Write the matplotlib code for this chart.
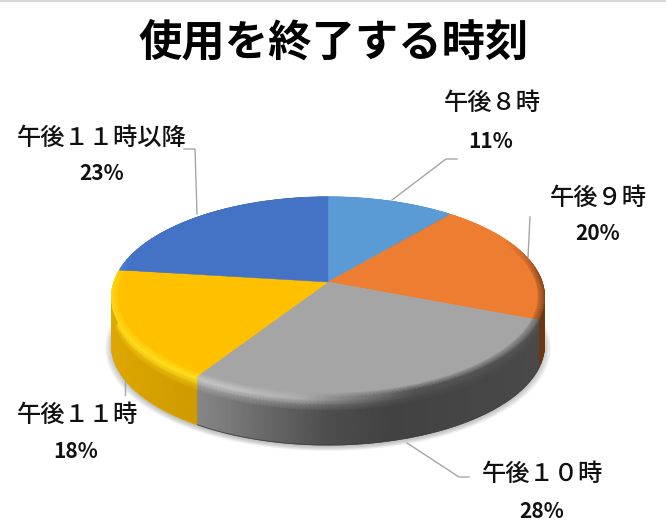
import numpy as np
import matplotlib
matplotlib.use("Agg")
import matplotlib.pyplot as plt
from matplotlib.colors import to_rgb

plt.rcParams["font.family"] = ["Noto Sans CJK JP", "DejaVu Sans"]

TITLE = "使用を終了する時刻"
labels = ["午後８時", "午後９時", "午後１０時", "午後１１時", "午後１１時以降"]
shares = [11, 20, 28, 18, 23]
colors = ["#5B9BD5", "#ED7D31", "#A5A5A5", "#FFC000", "#4472C4"]

# label anchors and leader lines, in image pixels
label_xy = [(492, 103), (598, 198), (542, 474), (77, 415), (102, 138)]
pct_xy = [(491, 141), (598, 233), (542, 511), (76, 452), (102, 173)]
leaders = [
    [(392, 200), (446, 159), (457, 159)],
    [(528, 257), (530, 217)],
    [(407, 443), (459, 477), (469, 477)],
    [(125, 395), (125, 377)],
    [(197, 214), (195, 149), (184, 149)],
]

# projected disc: apex, axes, perspective strength, thickness
CX, CY = 328, 282
A, B, K = 214, 97.75, 0.15
DEPTH = 48
BAND = 0.97


def disc(theta, r=1.0):
    u, v = np.sin(theta), np.cos(theta)
    den = 1 + K * r * v
    return CX + A * r * u / den, CY - B * r * v / den


def wall_colour(theta, base):
    u = np.sin(theta)[:, None]
    return base * np.interp(u, [-1, -0.5, 0, 0.25, 1], [0.88, 0.8, 0.47, 0.4, 0.45])


def rim_colour(theta, base):
    # lit on the front left, darkening towards the right edge
    u, v = np.sin(theta), np.cos(theta)
    lift = np.interp(u, [-1, -0.4, 0], [0.11, 0.11, 0])
    dark = np.interp(u, [-0.1, 0.35], [1.0, 0.5])
    strength = np.where(u < 0, np.interp(v, [0.0, 0.3], [1, 0]),
                        np.interp(v, [0.05, 0.45], [1, 0]))
    rim = np.clip(base * dark[:, None] + lift[:, None], 0, 1)
    return base + strength[:, None] * (rim - base)


def slice_angles(i):
    return np.linspace(edges[i], edges[i + 1], max(2, shares[i] * 4))


fig = plt.figure(figsize=(6.66, 5.27), dpi=100)
ax = fig.add_axes([0, 0, 1, 1])
ax.set_xlim(0, 666)
ax.set_ylim(527, 0)
ax.axis("off")
ax.axhline(0.5, color="#D9D9D9", linewidth=1.5)

# soft shadow under the disc
t = np.linspace(0, 2 * np.pi, 361)
for r in np.linspace(1.03, 1.0, 8):
    sx, sy = disc(t, r)
    ax.fill(sx, sy + DEPTH + 2, color="black", alpha=0.03, linewidth=0, zorder=1)

edges = np.radians(np.cumsum([0] + shares) * 3.6)

# side wall: rim colour fades into the wall colour over the first few pixels
drops = np.array([0, 3, 8, 14, DEPTH])
mix = np.array([0, 0, 0.55, 1, 1])
for i, c in enumerate(colors):
    theta = slice_angles(i)
    base = np.array(to_rgb(c))
    x, y = disc(theta)
    X = np.tile(x, (len(drops), 1))
    Y = y + drops[:, None]
    rim, wall = rim_colour(theta, base), wall_colour(theta, base)
    C = rim + mix[:, None, None] * (wall - rim)[None, :, :]
    ax.pcolormesh(X, Y, C, shading="gouraud", zorder=2)
    # crisp outline for the silhouette of the wall
    ax.plot(x, y + DEPTH, color=tuple(wall[len(wall) // 2]), linewidth=0.6, zorder=2)

# top face
for i, c in enumerate(colors):
    x, y = disc(slice_angles(i))
    ax.fill(np.r_[CX, x], np.r_[CY, y], color=c, linewidth=0.3, zorder=3)

# bevel band just inside the edge of the top face
radii = np.array([BAND, 1.0])
for i, c in enumerate(colors):
    theta = slice_angles(i)
    base = np.array(to_rgb(c))
    xy = [disc(theta, r) for r in radii]
    X = np.array([p[0] for p in xy])
    Y = np.array([p[1] for p in xy])
    C = np.stack([np.tile(base, (len(theta), 1)), rim_colour(theta, base)])
    ax.pcolormesh(X, Y, C, shading="gouraud", zorder=4)

for pts in leaders:
    ax.plot(*zip(*pts), color="#A6A6A6", linewidth=1, zorder=1.5)

ax.text(334, 43, TITLE, fontsize=31.2, fontweight="bold", ha="center", va="center")
for name, v, lxy, pxy in zip(labels, shares, label_xy, pct_xy):
    ax.text(*lxy, name, fontsize=17.5, fontweight="medium", ha="center", va="center",
            color="#111111")
    ax.text(*pxy, f"{v}%", fontsize=15, fontweight="bold", ha="center", va="center",
            color="#111111")

fig.savefig("out.png", dpi=100, facecolor="white")
plt.close(fig)
